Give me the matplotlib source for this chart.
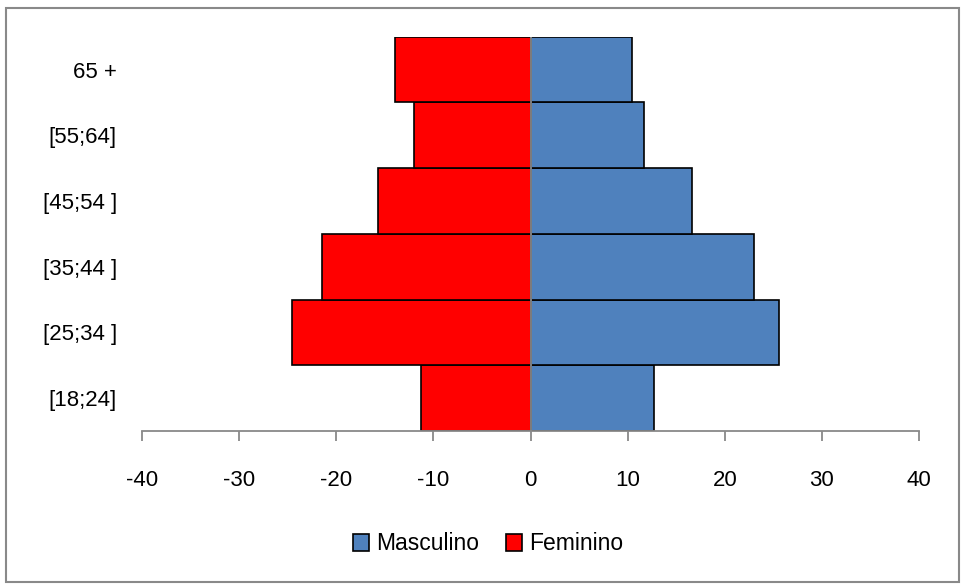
import matplotlib.pyplot as plt
from matplotlib.patches import Rectangle

# age groups, bottom to top
age_groups = ["[18;24]", "[25;34 ]", "[35;44 ]", "[45;54 ]", "[55;64]", "65 +"]
masculino = [12.7, 25.6, 23.0, 16.6, 11.7, 10.45]
feminino = [-11.3, -24.6, -21.5, -15.7, -12.0, -13.9]
x_ticks = [-40, -30, -20, -10, 0, 10, 20, 30, 40]

plt.rcParams['font.family'] = ['Liberation Sans', 'DejaVu Sans']

fig = plt.figure(figsize=(9.61, 5.84), dpi=100)
ax = fig.add_axes([142 / 961, 1 - 431 / 584, 777 / 961, 394.3 / 584])

pos = range(len(age_groups))
ax.barh(pos, masculino, height=1.0, color='#4F81BD', edgecolor='black', linewidth=1.2,
        label='Masculino', zorder=2)
ax.barh(pos, feminino, height=1.0, color='#FF0000', edgecolor='black', linewidth=1.2,
        label='Feminino', zorder=2)
ax.axvline(0, color='#898989', linewidth=1.3, zorder=3)

ax.set_xlim(-40, 40)
ax.set_ylim(-0.5, len(age_groups) - 0.5)
ax.set_xticks(x_ticks)
ax.set_xticklabels([str(t) for t in x_ticks])
ax.set_yticks(list(pos))
ax.set_yticklabels(age_groups)

for s in ['top', 'right', 'left']:
    ax.spines[s].set_visible(False)
ax.spines['bottom'].set_color('#898989')
ax.spines['bottom'].set_linewidth(1.3)
ax.tick_params(axis='x', direction='out', length=7, width=1.3, color='#898989',
               pad=21, labelsize=16)
ax.tick_params(axis='y', length=0, pad=18, labelsize=16)

handles, labels = ax.get_legend_handles_labels()
fig.legend(handles, labels, loc='center', bbox_to_anchor=(488 / 961, 1 - 544 / 584),
           ncol=2, frameon=False, fontsize=16.5, handlelength=0.7, handleheight=0.7,
           handletextpad=0.3, columnspacing=1.2)

# outer chart frame
fig.patches.append(Rectangle((6 / 961, 2 / 584), 953 / 961, 574 / 584, transform=fig.transFigure,
                             fill=False, edgecolor='#898989', linewidth=1.5))

fig.savefig('out.png', dpi=100)
